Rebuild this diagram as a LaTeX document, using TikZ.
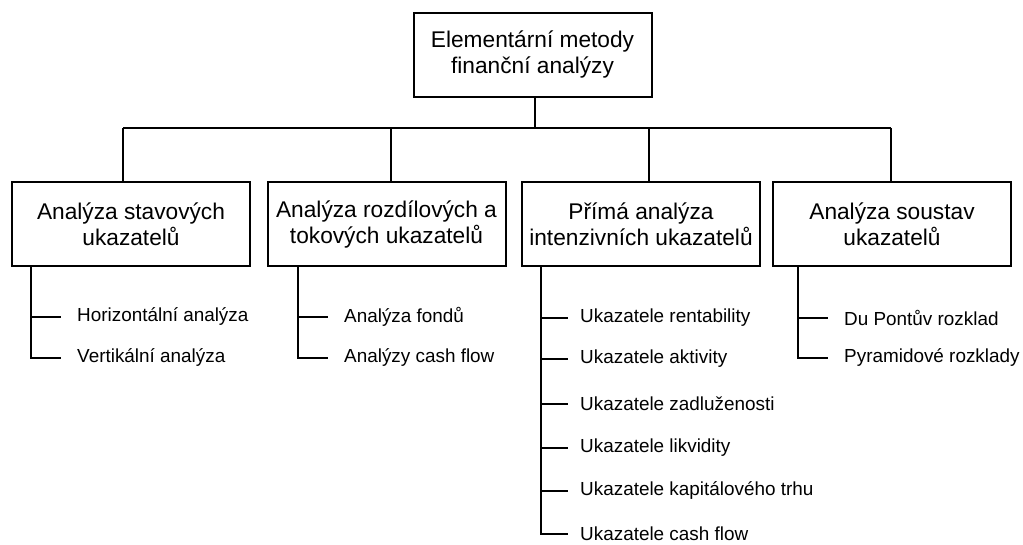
\documentclass[tikz,border=0pt]{standalone}
\usepackage{fontspec}
\setmainfont{Liberation Sans}
\begin{document}
\begin{tikzpicture}[x=1pt,y=-1pt,
  boxnode/.style={draw,line width=2pt,minimum width=238pt,minimum height=84pt,align=center,inner sep=0pt,
    font=\fontsize{22.7}{26}\selectfont},
  leaf/.style={anchor=west,inner sep=0pt,font=\fontsize{18.9}{22}\selectfont},
  conn/.style={line width=2pt}]
\useasboundingbox (0,0) rectangle (1023,545);
\node[boxnode] (top) at (532.5,55) {Elementární metody\\finanční analýzy};
\node[boxnode] (b1) at (131,224) {Analýza stavových\\ukazatelů};
\node[boxnode] (b2) at (386.5,224) {Analýza rozdílových a\\tokových ukazatelů};
\node[boxnode] (b3) at (641,224) {Přímá analýza\\intenzivních ukazatelů};
\node[boxnode] (b4) at (892,224) {Analýza soustav\\ukazatelů};
% bus
\coordinate (j0) at (535,128);
\coordinate (j1) at (123,128);
\coordinate (j2) at (391,128);
\coordinate (j3) at (649,128);
\coordinate (j4) at (891,128);
\draw[conn] (top.south -| j0) -- (j0);
\draw[conn] (j1) -- (j4);
\draw[conn] (j1) -- (b1.north -| j1);
\draw[conn] (j2) -- (b2.north -| j2);
\draw[conn] (j3) -- (b3.north -| j3);
\draw[conn] (j4) -- (b4.north -| j4);
% leaves col1
\node[leaf] (l11) at (77,317) {Horizontální analýza};
\node[leaf] (l12) at (77,358) {Vertikální analýza};
\coordinate (v1) at (31,266);
\draw[conn] (b1.south -| v1) |- ([xshift=-16pt]l12.west);
\draw[conn] (v1 |- l11.west) -- ([xshift=-16pt]l11.west);
% col2
\node[leaf] (l21) at (344,317) {Analýza fondů};
\node[leaf] (l22) at (344,358) {Analýzy cash flow};
\coordinate (v2) at (298,266);
\draw[conn] (b2.south -| v2) |- ([xshift=-16pt]l22.west);
\draw[conn] (v2 |- l21.west) -- ([xshift=-16pt]l21.west);
% col3
\node[leaf] (l31) at (580,318) {Ukazatele rentability};
\node[leaf] (l32) at (580,359) {Ukazatele aktivity};
\node[leaf] (l33) at (580,404) {Ukazatele zadluženosti};
\node[leaf] (l34) at (580,448) {Ukazatele likvidity};
\node[leaf] (l35) at (580,491) {Ukazatele kapitálového trhu};
\node[leaf] (l36) at (580,534) {Ukazatele cash flow};
\coordinate (v3) at (541,266);
\draw[conn] (b3.south -| v3) |- ([xshift=-12pt]l36.west);
\foreach \n in {l31,l32,l33,l34,l35}
  \draw[conn] (v3 |- \n.west) -- ([xshift=-12pt]\n.west);
% col4
\node[leaf] (l41) at (844,318) {Du Pontův rozklad};
\node[leaf] (l42) at (844,358) {Pyramidové rozklady};
\coordinate (v4) at (798,266);
\draw[conn] (b4.south -| v4) |- ([xshift=-16pt]l42.west);
\draw[conn] (v4 |- l41.west) -- ([xshift=-16pt]l41.west);
\end{tikzpicture}
\end{document}
